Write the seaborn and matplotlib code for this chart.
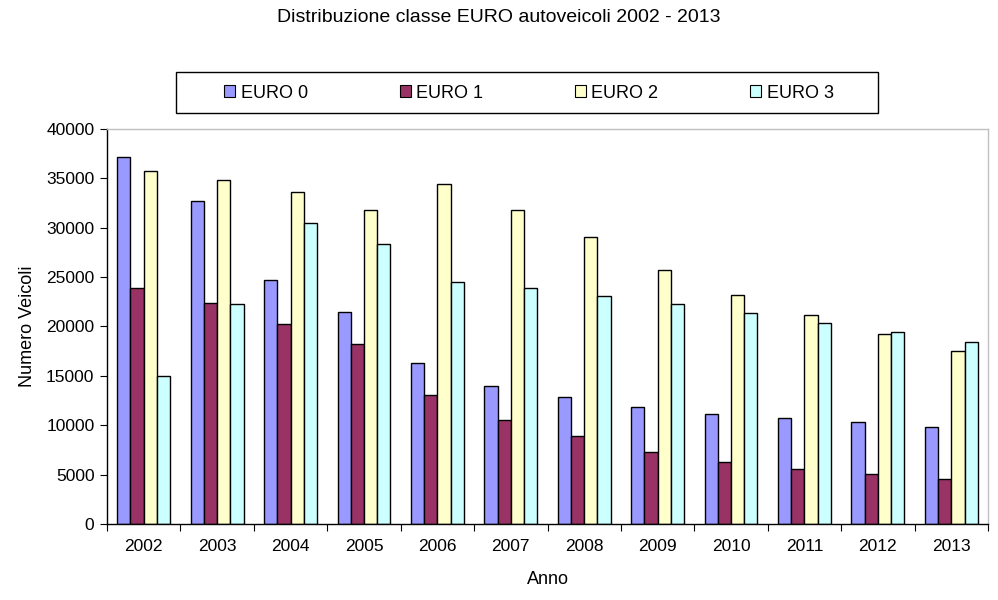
import matplotlib
matplotlib.use("Agg")
import matplotlib.pyplot as plt
import numpy as np
import pandas as pd
import seaborn as sns
from matplotlib.patches import Patch, Rectangle

anni = ["2002", "2003", "2004", "2005", "2006", "2007",
        "2008", "2009", "2010", "2011", "2012", "2013"]
classi = ["EURO 0", "EURO 1", "EURO 2", "EURO 3"]
euro0 = [37200, 32700, 24700, 21500, 16300, 14000, 12900, 11800, 11100, 10700, 10300, 9800]
euro1 = [23900, 22400, 20300, 18200, 13100, 10500, 8900, 7300, 6300, 5600, 5100, 4600]
euro2 = [35700, 34800, 33600, 31800, 34400, 31800, 29100, 25700, 23200, 21200, 19200, 17500]
euro3 = [15000, 22300, 30500, 28400, 24500, 23900, 23100, 22300, 21400, 20400, 19400, 18400]
colori = ["#9999FF", "#993366", "#FFFFCC", "#CCFFFF"]

sns.set_style("white")
plt.rcParams["font.family"] = ["Liberation Sans", "DejaVu Sans"]
plt.rcParams["text.color"] = "black"
plt.rcParams["axes.labelcolor"] = "black"
plt.rcParams["xtick.color"] = "black"
plt.rcParams["ytick.color"] = "black"

df = pd.DataFrame({
    "Anno": anni * 4,
    "Classe": np.repeat(classi, len(anni)),
    "Veicoli": euro0 + euro1 + euro2 + euro3,
})

fig = plt.figure(figsize=(9.98, 6), dpi=100)
ax = fig.add_axes([0.1072, 0.1267, 0.8828, 0.6583])

sns.barplot(data=df, x="Anno", y="Veicoli", hue="Classe", order=anni,
            hue_order=classi, palette=colori, width=0.72, gap=0,
            edgecolor="black", linewidth=1, saturation=1, errorbar=None,
            legend=False, ax=ax)

ax.set_ylim(0, 40000)
ax.set_xlim(-0.5, len(anni) - 0.5)
ax.set_yticks(range(0, 40001, 5000))
ax.tick_params(axis="y", length=5, width=0.8, labelsize=12.5, left=True, pad=4)
ax.tick_params(axis="x", which="major", length=0, labelsize=12.5, pad=11)
ax.set_xticks(np.arange(-0.5, len(anni), 1), minor=True)
ax.tick_params(axis="x", which="minor", length=5, width=0.8, bottom=True)

for side in ["left", "bottom"]:
    ax.spines[side].set_color("black")
    ax.spines[side].set_linewidth(1)
for side in ["top", "right"]:
    ax.spines[side].set_color("#c0c0c0")
    ax.spines[side].set_linewidth(1)

ax.set_xlabel("Anno", fontsize=13, labelpad=12)
ax.set_ylabel("Numero Veicoli", fontsize=13, labelpad=7)

fig.suptitle("Distribuzione classe EURO autoveicoli 2002 - 2013",
             y=1 - 18 / 600, va="center", fontsize=14)

# cornice della legenda come in Excel
fig.patches.append(Rectangle((176 / 998, 1 - 113 / 600), 702 / 998, 41 / 600,
                             transform=fig.transFigure, fill=False,
                             edgecolor="black", linewidth=1))

handles = [Patch(facecolor=c, edgecolor="black", linewidth=0.8, label=l)
           for c, l in zip(colori, classi)]
fig.legend(handles=handles, loc="center", ncol=4,
           bbox_to_anchor=(529 / 998, 1 - 93 / 600),
           fontsize=13, frameon=False,
           handlelength=0.6, handleheight=0.6, handletextpad=0.3,
           columnspacing=5.1, borderaxespad=0)

fig.savefig("out.png", dpi=100)
